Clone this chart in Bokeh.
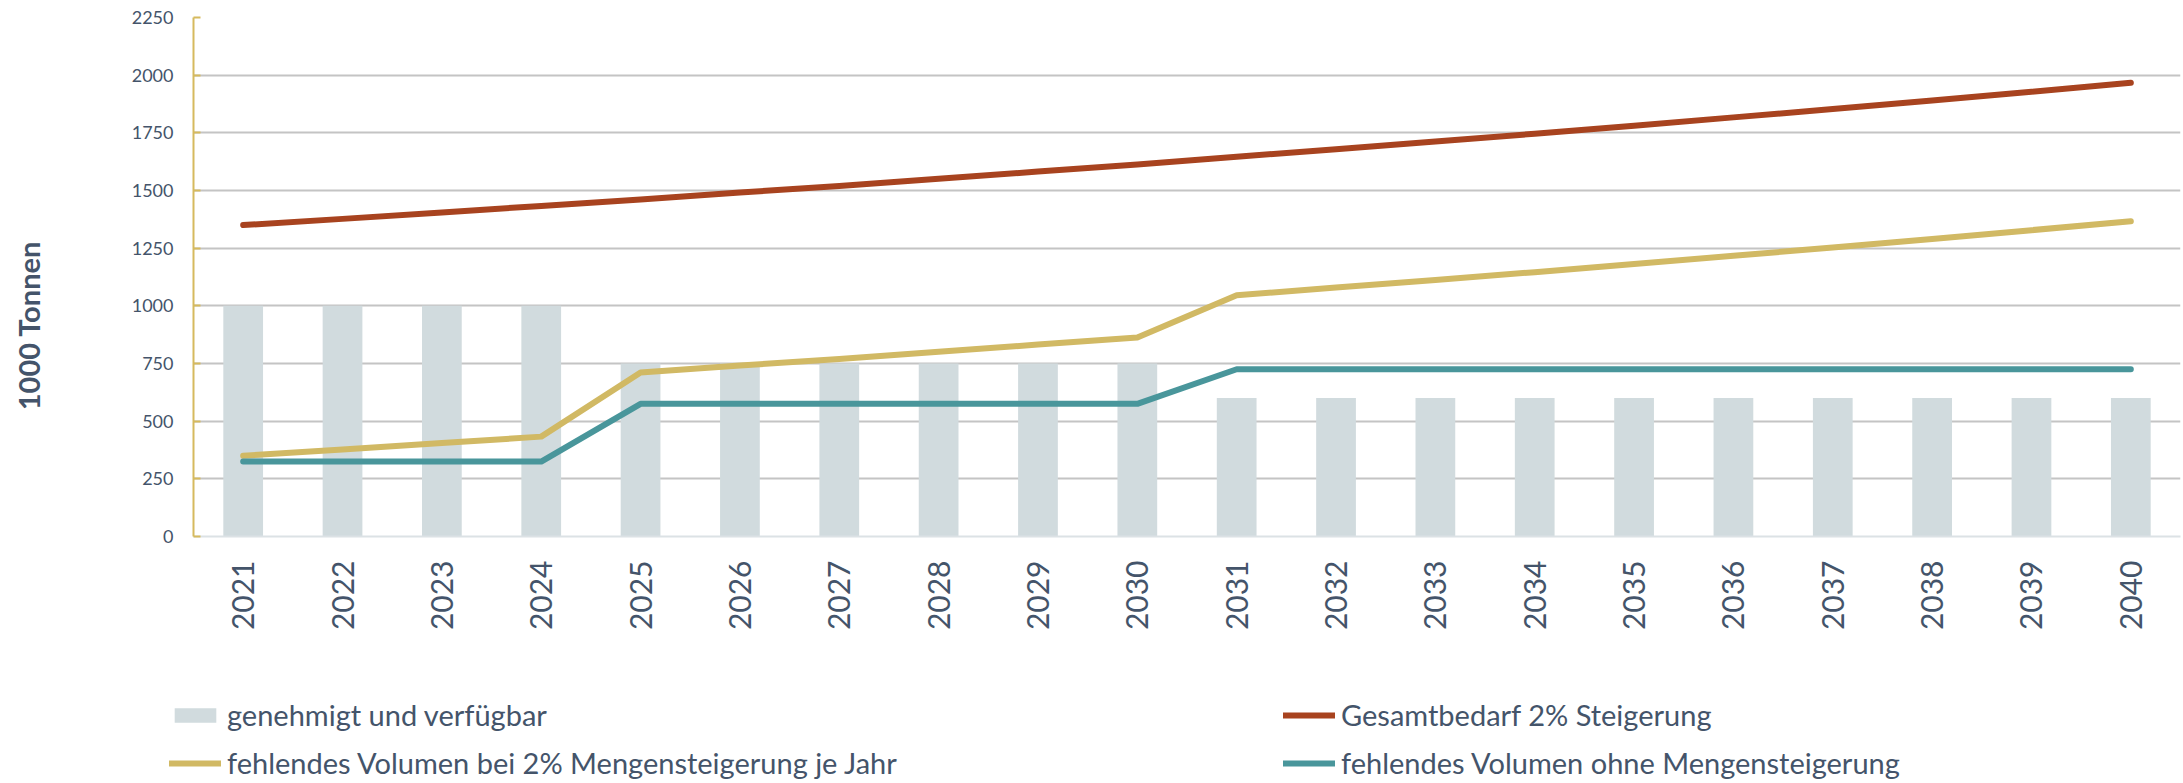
import math
from bokeh.plotting import figure
from bokeh.layouts import row, column
from bokeh.models import (FactorRange, Range1d, FixedTicker, Legend, LegendItem,
                          Label, ColumnDataSource)
from bokeh.embed import file_html
from bokeh.resources import INLINE

# ---- data ----
years = ["2021", "2022", "2023", "2024", "2025", "2026", "2027", "2028", "2029", "2030",
         "2031", "2032", "2033", "2034", "2035", "2036", "2037", "2038", "2039", "2040"]
genehmigt = [1000, 1000, 1000, 1000, 750, 750, 750, 750, 750, 750,
             600, 600, 600, 600, 600, 600, 600, 600, 600, 600]
gesamtbedarf = [1350, 1377, 1405, 1433, 1461, 1491, 1520, 1551, 1582, 1613,
                1646, 1679, 1712, 1746, 1781, 1817, 1853, 1890, 1928, 1967]
fehlend_2pct = [350, 377, 405, 433, 711, 741, 770, 801, 832, 863,
                1046, 1079, 1112, 1146, 1181, 1217, 1253, 1290, 1328, 1367]
fehlend_ohne = [325, 325, 325, 325, 575, 575, 575, 575, 575, 575,
                725, 725, 725, 725, 725, 725, 725, 725, 725, 725]
y_ticks = [0, 250, 500, 750, 1000, 1250, 1500, 1750, 2000, 2250]

labels = ["genehmigt und verfügbar", "Gesamtbedarf 2% Steigerung",
          "fehlendes Volumen bei 2% Mengensteigerung je Jahr",
          "fehlendes Volumen ohne Mengensteigerung"]
y_title = "1000 Tonnen"

TEXT = "#44546A"
FONT = "Lato"
C_BAR = "#D1DBDE"
C_RED = "#A8431F"
C_YEL = "#D1B964"
C_TEAL = "#49969B"

TOTAL_W, TOTAL_H = 2183, 783
TITLE_W = 60
MAIN_W = TOTAL_W - TITLE_W
MAIN_H = 633
LEG_H = TOTAL_H - MAIN_H

src = ColumnDataSource(dict(year=years, gen=genehmigt, ges=gesamtbedarf,
                            f2=fehlend_2pct, f0=fehlend_ohne))

p = figure(x_range=FactorRange(*years), y_range=Range1d(0, 2250),
           width=MAIN_W, height=MAIN_H, output_backend="svg", toolbar_location=None,
           min_border_left=133, min_border_right=3, min_border_top=17,
           min_border_bottom=96)
p.outline_line_color = None

line_kw = dict(line_width=6, line_cap="round", line_join="round")
bars = p.vbar(x="year", top="gen", width=0.4, source=src, fill_color=C_BAR,
              line_color=None)
p.line(x="year", y="ges", source=src, line_color=C_RED, **line_kw)
p.line(x="year", y="f2", source=src, line_color=C_YEL, **line_kw)
p.line(x="year", y="f0", source=src, line_color=C_TEAL, **line_kw)

# grid
p.xgrid.grid_line_color = None
p.ygrid.ticker = FixedTicker(ticks=y_ticks[1:])
p.ygrid.grid_line_color = "#C4C4C4"
p.ygrid.grid_line_width = 2

# y axis
p.yaxis.ticker = FixedTicker(ticks=y_ticks)
p.yaxis.axis_line_color = "#D6BA5E"
p.yaxis.axis_line_width = 2
p.yaxis.major_tick_line_color = "#D6BA5E"
p.yaxis.major_tick_line_width = 2
p.yaxis.major_tick_in = 7
p.yaxis.major_tick_out = 0
p.yaxis.minor_tick_line_color = None
p.yaxis.major_label_standoff = 20
p.yaxis.major_label_text_font = FONT
p.yaxis.major_label_text_font_size = "18px"
p.yaxis.major_label_text_color = TEXT

# x axis
p.xaxis.axis_line_color = "#DCE2E5"
p.xaxis.axis_line_width = 2
p.xaxis.major_tick_line_color = None
p.xaxis.major_tick_in = 0
p.xaxis.major_tick_out = 0
p.xaxis.major_label_orientation = math.pi / 2
p.xaxis.major_label_standoff = 24
p.xaxis.major_label_text_font = FONT
p.xaxis.major_label_text_font_size = "30px"
p.xaxis.major_label_text_color = TEXT

# ---- y axis title panel (its frame is aligned with the main frame: 17..537) ----
tf = figure(width=TITLE_W, height=MAIN_H, x_range=Range1d(0, 1), y_range=Range1d(0, 1),
            x_axis_type=None, y_axis_type=None, output_backend="svg",
            toolbar_location=None, min_border=0)
tf.outline_line_color = None
tf.add_layout(Label(x=28, y=211, x_units="screen", y_units="screen",
                    text=y_title, angle=math.pi / 2, text_align="center",
                    text_baseline="middle", text_font=FONT,
                    text_font_style="bold", text_font_size="29px",
                    text_color=TEXT))

# ---- legend panel ----
lf = figure(width=TOTAL_W, height=LEG_H, x_range=Range1d(0, 1), y_range=Range1d(0, 1),
            x_axis_type=None, y_axis_type=None, output_backend="svg",
            toolbar_location=None, min_border=0)
lf.outline_line_color = None
off = ColumnDataSource(dict(x=[-10, -9], y=[-10, -9]))  # outside view, legend swatches only
g_bar = lf.vbar(x="x", top="y", width=0.4, source=off, fill_color=C_BAR, line_color=None)
g_red = lf.line(x="x", y="y", source=off, line_color=C_RED, **line_kw)
g_yel = lf.line(x="x", y="y", source=off, line_color=C_YEL, **line_kw)
g_teal = lf.line(x="x", y="y", source=off, line_color=C_TEAL, **line_kw)

def make_legend(items, loc):
    return Legend(items=items, location=loc, orientation="vertical",
                  label_text_font=FONT, label_text_font_size="29px",
                  label_text_color=TEXT, glyph_width=52, glyph_height=18,
                  label_standoff=6, spacing=13, padding=0, margin=0,
                  border_line_color=None, background_fill_alpha=0,
                  label_height=18)

lf.add_layout(make_legend([LegendItem(label=labels[0], renderers=[g_bar]),
                           LegendItem(label=labels[2], renderers=[g_yel])], (169, 3)))
lf.add_layout(make_legend([LegendItem(label=labels[1], renderers=[g_red]),
                           LegendItem(label=labels[3], renderers=[g_teal])], (1283, 3)))

layout = column(row(tf, p), lf)
open("out.html", "w").write(file_html(layout, INLINE))
